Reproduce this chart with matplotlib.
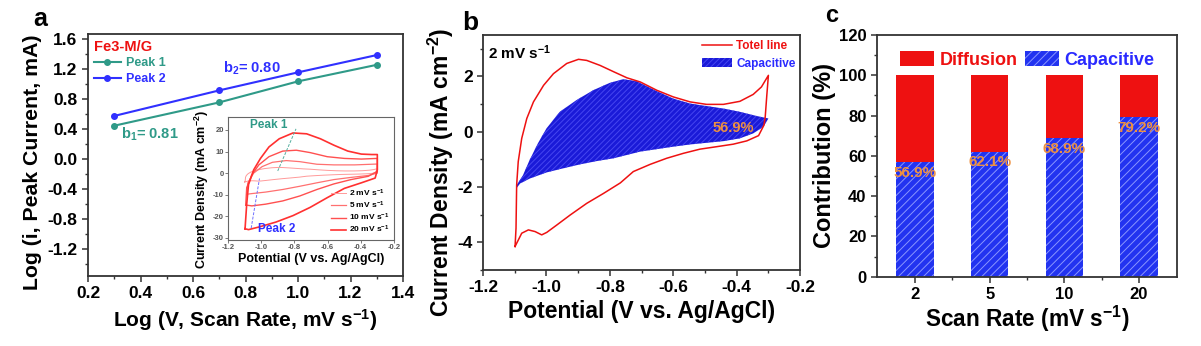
import numpy as np
import matplotlib
matplotlib.use("Agg")
import matplotlib.pyplot as plt
from matplotlib.patches import Patch
from matplotlib.lines import Line2D
from matplotlib.ticker import MultipleLocator

plt.rcParams['font.family'] = ['Liberation Sans', 'DejaVu Sans']
plt.rcParams['font.weight'] = 'bold'
plt.rcParams['axes.labelweight'] = 'bold'
plt.rcParams['mathtext.fontset'] = 'custom'
plt.rcParams['mathtext.rm'] = 'Liberation Sans:bold'
plt.rcParams['mathtext.bf'] = 'Liberation Sans:bold'
plt.rcParams['mathtext.default'] = 'rm'
plt.rcParams['axes.unicode_minus'] = False
plt.rcParams['hatch.linewidth'] = 0.7

# --- (a) log(i) vs log(v) for the two redox peaks
log_v = [0.30, 0.70, 1.00, 1.30]
log_i_peak1 = [0.44, 0.75, 1.03, 1.25]
log_i_peak2 = [0.57, 0.91, 1.15, 1.38]

# --- CV loops, Fe3-M/G (potential in V vs Ag/AgCl, current density in mA cm-2)
cv2_x = [-1.099, -1.096, -1.094, -1.089, -1.078, -1.062, -1.041, -1.009, -0.978, -0.936,
         -0.899, -0.873, -0.831, -0.788, -0.746, -0.704, -0.652, -0.600, -0.547, -0.495,
         -0.442, -0.390, -0.348, -0.322, -0.300, -0.305, -0.310, -0.314, -0.331, -0.368,
         -0.411, -0.463, -0.516, -0.568, -0.621, -0.673, -0.726, -0.767, -0.820, -0.873,
         -0.925, -0.967, -0.999, -1.015, -1.036, -1.057, -1.078, -1.099]
cv2_y = [-4.15, -3.49, -1.93, -1.08, -0.24, 0.48, 1.08, 1.68, 2.10, 2.47,
         2.62, 2.58, 2.40, 2.17, 1.95, 1.80, 1.50, 1.26, 1.08, 0.99,
         0.99, 1.10, 1.35, 1.62, 2.04, 1.32, 0.54, 0.24, -0.14, -0.33,
         -0.45, -0.54, -0.63, -0.78, -0.96, -1.18, -1.44, -1.85, -2.23, -2.59,
         -3.01, -3.37, -3.64, -3.73, -3.61, -3.55, -3.67, -4.15]

cv5_x = [-1.087, -1.080, -1.045, -0.994, -0.932, -0.849, -0.767, -0.664, -0.561, -0.437,
         -0.300, -0.300, -0.355, -0.458, -0.561, -0.664, -0.767, -0.870, -0.973, -1.056, -1.087]
cv5_y = [-9.8, -4.5, 0.0, 3.0, 5.0, 5.8, 5.3, 4.1, 3.8, 3.8,
         4.2, 0.0, -1.1, -2.0, -3.0, -4.5, -6.1, -7.6, -8.8, -9.5, -9.8]

cv10_x = [-1.093, -1.087, -1.056, -1.014, -0.953, -0.870, -0.788, -0.705, -0.602, -0.499,
          -0.396, -0.300, -0.300, -0.355, -0.458, -0.561, -0.664, -0.767, -0.870, -0.973,
          -1.056, -1.093]
cv10_y = [-14.8, -6.8, -0.8, 3.8, 7.6, 10.2, 10.6, 9.5, 7.6, 6.8,
          6.5, 6.8, 0.8, -1.5, -3.0, -5.0, -7.6, -10.6, -12.9, -14.4,
          -15.2, -14.8]

cv20_x = [-1.097, -1.087, -1.076, -1.045, -1.004, -0.953, -0.891, -0.808, -0.726, -0.643,
          -0.561, -0.478, -0.396, -0.334, -0.300, -0.300, -0.313, -0.396, -0.499, -0.602,
          -0.705, -0.808, -0.911, -1.014, -1.076, -1.097]
cv20_y = [-25.8, -14.4, -5.3, 1.5, 6.8, 12.1, 15.9, 18.6, 18.2, 15.9,
          12.9, 10.2, 8.8, 8.6, 8.6, 1.5, -2.3, -4.5, -7.1, -11.4,
          -15.9, -19.7, -22.7, -25.0, -26.2, -25.8]

peak1_x = [-0.900, -0.790]
peak1_y = [1.0, 20.5]
peak2_x = [-1.060, -1.010]
peak2_y = [-25.5, -2.5]

# --- (b) capacitive envelope at 2 mV/s
cap_up_x = [-1.095, -1.074, -1.053, -1.027, -1.000, -0.958, -0.906, -0.853, -0.800, -0.758,
            -0.716, -0.652, -0.600, -0.547, -0.495, -0.442, -0.390, -0.337, -0.300]
cap_up_y = [-1.95, -1.57, -1.02, -0.42, 0.12, 0.72, 1.14, 1.50, 1.77, 1.90,
            1.83, 1.47, 1.20, 1.02, 0.93, 0.84, 0.72, 0.57, 0.48]
cap_low_x = [-0.300, -0.316, -0.348, -0.390, -0.442, -0.495, -0.547, -0.600, -0.652, -0.705,
             -0.788, -0.841, -0.894, -0.946, -0.999, -1.052, -1.083, -1.095]
cap_low_y = [0.48, 0.18, -0.06, -0.24, -0.34, -0.40, -0.46, -0.54, -0.63, -0.72,
             -0.96, -1.06, -1.18, -1.32, -1.47, -1.69, -1.87, -2.05]
cap_share_2mv = 56.9

# --- (c) contribution ratios
rates = ['2', '5', '10', '20']
capacitive = [56.9, 62.1, 68.9, 79.2]
diffusion = [43.1, 37.9, 31.1, 20.8]

RED = '#ee1111'
BLUE = '#1a1ad8'
BLUE_C = '#2233f0'
TEAL = '#2f9a88'
ORANGE = '#ee9040'
FRAME = '#333333'


def style_axes(ax, lw=1.3):
    for s in ax.spines.values():
        s.set_linewidth(lw)
        s.set_color(FRAME)
    ax.tick_params(which='both', direction='out', top=False, right=False, color=FRAME)
    ax.tick_params(which='major', length=4, width=1.1, labelsize=12.5)
    ax.tick_params(which='minor', length=2.5, width=1.0)


fig = plt.figure(figsize=(12.01, 3.46), dpi=100)

# ---------------- panel a
ax_a = fig.add_axes([0.0733, 0.2023, 0.2623, 0.6994])
ax_a.plot(log_v, log_i_peak1, '-o', color=TEAL, lw=1.5, ms=4, label='Peak 1')
ax_a.plot(log_v, log_i_peak2, '-o', color='#3030ff', lw=1.5, ms=4, label='Peak 2')
ax_a.set_xlim(0.2, 1.4)
ax_a.set_ylim(-1.56, 1.66)
ax_a.xaxis.set_major_locator(MultipleLocator(0.2))
ax_a.xaxis.set_minor_locator(MultipleLocator(0.1))
ax_a.yaxis.set_minor_locator(MultipleLocator(0.2))
ax_a.set_yticks(np.arange(-1.2, 1.61, 0.4))
style_axes(ax_a)
ax_a.set_xlabel('Log (V, Scan Rate, mV s$^{-1}$)', fontsize=15, labelpad=4)
ax_a.set_ylabel('Log (i, Peak Current, mA)', fontsize=15.3)
ax_a.yaxis.set_label_coords(-0.146, 0.471)
leg = ax_a.legend(loc='upper left', frameon=False, fontsize=9, title='Fe3-M/G',
                  title_fontsize=10.5, labelcolor='linecolor', handlelength=2.2,
                  borderaxespad=0.1, borderpad=0.35, labelspacing=0.3,
                  handletextpad=0.35, alignment='left')
leg.get_title().set_color(RED)
leg.get_title().set_fontweight('bold')
ax_a.text(0.715, 1.21, 'b$_2$= 0.80', color='#3030ff', fontsize=10.5, va='center')
ax_a.text(0.326, 0.32, 'b$_1$= 0.81', color=TEAL, fontsize=10.5, va='center')

# inset: CV at several scan rates
ins = fig.add_axes([0.1898, 0.3064, 0.1382, 0.3555])
ins.plot(cv2_x, cv2_y, color='#ff9a9a', lw=0.7, label='2 mV s$^{-1}$')
ins.plot(cv5_x, cv5_y, color='#ff7070', lw=0.9, label='5 mV s$^{-1}$')
ins.plot(cv10_x, cv10_y, color='#ff5050', lw=1.0, label='10 mV s$^{-1}$')
ins.plot(cv20_x, cv20_y, color='#ff3030', lw=1.2, label='20 mV s$^{-1}$')
ins.plot(peak1_x, peak1_y, ls=(0, (3, 1.5)), color='#55b0a0', lw=0.7)
ins.plot(peak2_x, peak2_y, ls=(0, (3, 1.5)), color='#7070ff', lw=0.7)
ins.text(-1.067, 22.3, 'Peak 1', color=TEAL, fontsize=8.5, va='center')
ins.text(-1.02, -26.0, 'Peak 2', color='#3030ff', fontsize=8.5, va='center')
ins.set_xlim(-1.2, -0.2)
ins.set_ylim(-31, 26)
ins.set_xticks(np.arange(-1.2, -0.19, 0.2))
ins.set_yticks([-30, -20, -10, 0, 10, 20])
for s in ins.spines.values():
    s.set_linewidth(0.8)
    s.set_color('#666666')
ins.tick_params(direction='out', length=2, width=0.6, labelsize=5.5, pad=1,
                labelcolor='#555555', color='#666666')
ins.set_xlabel('Potential (V vs. Ag/AgCl)', fontsize=9, labelpad=1)
ins.set_ylabel('Current Density (mA cm$^{-2}$)', fontsize=9)
ins.yaxis.set_label_coords(-0.1, 0.41)
ins.legend(loc='lower right', frameon=False, fontsize=6, handlelength=1.8,
           labelspacing=0.12, borderaxespad=0.15, handletextpad=0.4)

# ---------------- panel b
ax_b = fig.add_axes([0.4022, 0.2197, 0.2640, 0.6792])
cap_x = cap_up_x + cap_low_x
cap_y = cap_up_y + cap_low_y
ax_b.fill(cap_x, cap_y, facecolor=BLUE, lw=0)
ax_b.fill(cap_x, cap_y, facecolor='none', edgecolor='#4646f0', hatch='//////', lw=0)
ax_b.plot(cv2_x, cv2_y, color=RED, lw=1.1)
ax_b.set_xlim(-1.2, -0.2)
ax_b.set_ylim(-5, 3.5)
ax_b.xaxis.set_major_locator(MultipleLocator(0.2))
ax_b.xaxis.set_minor_locator(MultipleLocator(0.1))
ax_b.yaxis.set_major_locator(MultipleLocator(2))
ax_b.yaxis.set_minor_locator(MultipleLocator(1))
style_axes(ax_b)
ax_b.set_xlabel('Potential (V vs. Ag/AgCl)', fontsize=16.5, labelpad=3)
ax_b.set_ylabel('Current Density (mA cm$^{-2}$)', fontsize=16.5)
ax_b.yaxis.set_label_coords(-0.085, 0.417)
ax_b.text(0.015, 0.965, '2 mV s$^{-1}$', transform=ax_b.transAxes, fontsize=11,
          ha='left', va='top')
ax_b.text(-0.411, 0.12, f'{cap_share_2mv}%', color=ORANGE, fontsize=10.5,
          ha='center', va='center')
h_b = [Line2D([], [], color=RED, lw=1.1),
       Patch(facecolor=BLUE, edgecolor='#4646f0', hatch='//////', lw=0)]
ax_b.legend(h_b, ['Totel line', 'Capacitive'], loc='upper right', frameon=False,
            fontsize=8.5, labelcolor=[RED, '#2a2aff'], handlelength=2.6,
            borderaxespad=0.2, borderpad=0.2, labelspacing=0.5, handletextpad=0.3)

# ---------------- panel c
ax_c = fig.add_axes([0.7302, 0.2003, 0.2498, 0.6985])
pos = np.arange(len(rates))
ax_c.bar(pos, capacitive, width=0.5, color=BLUE_C, edgecolor='#8a96ff', hatch='////', lw=0)
ax_c.bar(pos, diffusion, width=0.5, bottom=capacitive, color=RED, lw=0)
for p, v in zip(pos, capacitive):
    ax_c.text(p, v - 5.3, f'{v}%', color=ORANGE, fontsize=11, ha='center', va='center')
ax_c.set_xlim(-0.51, 3.51)
ax_c.set_ylim(0, 120)
ax_c.set_xticks(pos)
ax_c.set_xticklabels(rates)
ax_c.set_xticks(pos[:-1] + 0.5, minor=True)
ax_c.yaxis.set_major_locator(MultipleLocator(20))
ax_c.yaxis.set_minor_locator(MultipleLocator(10))
style_axes(ax_c)
ax_c.tick_params(axis='x', labelsize=12)
ax_c.tick_params(axis='y', labelsize=12)
ax_c.set_xlabel('Scan Rate (mV s$^{-1}$)', fontsize=16.3, labelpad=1)
ax_c.set_ylabel('Contribution (%)', fontsize=17, labelpad=2)
h_c = [Patch(facecolor=RED, lw=0),
       Patch(facecolor=BLUE_C, edgecolor='#8a96ff', hatch='////', lw=0)]
ax_c.legend(h_c, ['Diffusion', 'Capacitive'], loc='upper center', ncol=2, frameon=False,
            fontsize=13, labelcolor=[RED, '#2a2aff'], handlelength=1.9, handleheight=0.9,
            columnspacing=0.4, handletextpad=0.3, borderaxespad=0.5)

# panel letters
fig.text(0.028, 0.925, 'a', fontsize=18, ha='left', va='baseline')
fig.text(0.385, 0.912, 'b', fontsize=19, ha='left', va='baseline')
fig.text(0.687, 0.936, 'c', fontsize=17, ha='left', va='baseline')

fig.savefig('out.png', dpi=100)
